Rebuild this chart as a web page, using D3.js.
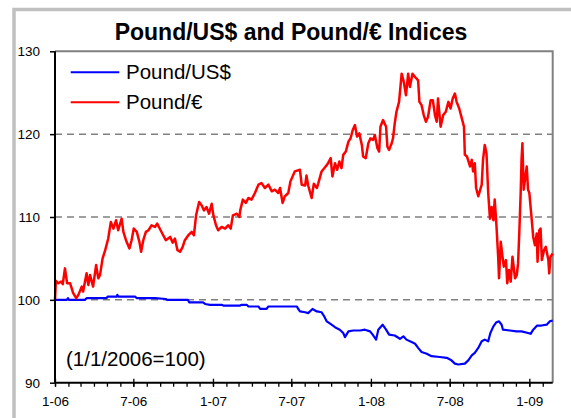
<!DOCTYPE html>
<html>
<head>
<meta charset="utf-8">
<script src="https://cdn.jsdelivr.net/npm/d3@7"></script>
<style>
  html, body { margin: 0; padding: 0; background: #fff; }
  svg { display: block; font-family: "Liberation Sans", Arial, sans-serif; }
</style>
</head>
<body>
<svg id="chart" width="571" height="418"></svg>
<script>
// Index series, rebased so that 1 Jan 2006 = 100.
// Dates are stored as day offsets from the base date.
const baseDate = "2006-01-01";
const endDate = "2009-02-24";

const usdDays = [0, 27, 30, 32, 69, 73, 119, 122, 143, 144, 146, 185, 189, 231, 256, 259, 307, 310, 342, 347,
  358, 386, 389, 427, 431, 443, 447, 470, 474, 489, 493, 559, 562, 566, 578, 585, 595, 605, 616, 621,
  628, 639, 647, 658, 666, 670, 678, 689, 705, 716, 728, 734, 742, 747, 757, 765, 772, 785, 797, 805,
  812, 824, 832, 839, 847, 859, 870, 889, 905, 916, 924, 932, 947, 955, 963, 970, 978, 986, 993, 1001,
  1006, 1013, 1020, 1026, 1032, 1035, 1051, 1066, 1078, 1093, 1099, 1105, 1114, 1124, 1136, 1143, 1150];
const usdValues = [100.0, 100.0, 100.2, 100.0, 100.0, 100.2, 100.2, 100.4, 100.4, 100.6, 100.4, 100.4, 100.2, 100.2, 100.1, 100.0, 100.0, 99.7, 99.7, 99.5,
  99.4, 99.4, 99.3, 99.3, 99.4, 99.4, 99.2, 99.2, 98.9, 98.9, 99.2, 99.2, 98.9, 98.6, 98.5, 98.4, 98.9, 98.6, 98.5, 98.1,
  97.4, 97.0, 96.7, 96.4, 96.0, 95.5, 96.2, 96.3, 96.3, 96.4, 96.2, 95.8, 95.2, 96.4, 97.0, 96.4, 95.8, 95.7, 95.3, 95.6,
  95.2, 94.9, 94.7, 94.2, 93.7, 93.5, 93.2, 93.1, 93.0, 92.7, 92.3, 92.2, 92.3, 92.7, 93.3, 93.6, 94.2, 95.0, 95.2, 95.0,
  96.0, 96.8, 97.3, 97.4, 97.0, 96.4, 96.3, 96.2, 96.2, 96.0, 95.9, 96.4, 96.9, 96.9, 97.0, 97.4, 97.5];

const eurDays = [0, 2, 7, 14, 18, 23, 28, 35, 42, 49, 54, 62, 65, 73, 77, 81, 88, 95, 100, 104,
  110, 116, 123, 129, 135, 141, 146, 154, 158, 164, 172, 177, 182, 189, 195, 199, 204, 210, 216, 223,
  231, 236, 244, 250, 256, 266, 272, 277, 283, 289, 295, 300, 308, 316, 321, 326, 333, 339, 344, 350,
  356, 362, 366, 372, 377, 385, 393, 400, 406, 411, 420, 426, 428, 434, 441, 447, 454, 462, 470, 477,
  485, 493, 501, 508, 516, 520, 526, 531, 539, 544, 554, 566, 570, 578, 581, 585, 593, 598, 605, 608,
  616, 624, 631, 637, 641, 647, 652, 657, 662, 666, 672, 678, 683, 688, 693, 698, 703, 709, 712, 718,
  724, 729, 735, 739, 745, 749, 752, 758, 765, 768, 772, 778, 781, 785, 789, 795, 801, 806, 811, 816,
  820, 826, 832, 839, 842, 847, 852, 857, 862, 868, 873, 878, 882, 885, 891, 897, 903, 909, 914, 919,
  924, 928, 934, 940, 945, 947, 952, 959, 963, 966, 970, 973, 978, 986, 989, 993, 997, 1001, 1005, 1009,
  1013, 1016, 1020, 1024, 1026, 1030, 1034, 1037, 1042, 1045, 1049, 1053, 1057, 1063, 1067, 1070, 1073, 1076, 1078, 1080,
  1083, 1090, 1093, 1096, 1101, 1105, 1109, 1113, 1115, 1119, 1122, 1125, 1130, 1134, 1140, 1142, 1145, 1150];
const eurValues = [100.0, 102.3, 102.0, 102.2, 101.9, 103.8, 102.0, 102.0, 100.8, 100.2, 100.6, 101.6, 101.0, 103.2, 101.8, 103.0, 101.6, 104.2, 102.6, 103.0,
  105.0, 106.0, 107.4, 109.4, 108.6, 109.6, 108.4, 109.8, 108.2, 107.2, 106.2, 107.2, 108.6, 108.2, 107.0, 105.8, 107.2, 108.2, 108.4, 109.0,
  108.8, 109.2, 108.4, 107.8, 107.2, 107.6, 106.9, 107.4, 106.0, 105.8, 106.4, 107.2, 107.8, 108.2, 107.8, 110.2, 111.8, 111.4, 110.8, 111.2,
  110.4, 111.6, 110.2, 109.0, 108.4, 108.8, 108.6, 109.0, 108.6, 110.2, 110.4, 110.0, 110.8, 112.1, 111.7, 112.3, 112.1, 112.9, 113.9, 114.1,
  113.5, 113.9, 113.1, 113.3, 112.9, 113.5, 111.7, 112.5, 112.9, 114.3, 115.5, 115.7, 113.9, 113.8, 115.0, 113.8, 112.3, 114.0, 113.5, 114.0,
  115.5, 116.0, 116.5, 117.1, 114.9, 116.5, 115.7, 116.7, 115.9, 117.5, 117.9, 119.1, 119.5, 120.5, 121.1, 119.7, 120.1, 118.7, 117.3, 117.1,
  118.9, 119.5, 119.3, 119.9, 118.3, 117.9, 120.9, 121.7, 120.9, 118.5, 118.1, 118.9, 119.5, 121.3, 122.7, 123.9, 127.3, 126.3, 124.7, 127.3,
  125.7, 127.3, 126.9, 126.5, 123.9, 123.5, 122.3, 121.5, 122.1, 124.1, 124.1, 122.3, 121.5, 124.3, 120.9, 122.3, 122.7, 123.9, 123.1, 124.3,
  124.9, 123.9, 123.1, 121.9, 120.9, 117.5, 117.3, 116.1, 116.9, 115.5, 116.5, 113.5, 112.5, 113.9, 116.9, 118.7, 117.7, 112.9, 109.8, 111.2,
  109.6, 112.1, 109.0, 105.2, 102.6, 107.0, 105.2, 104.0, 104.8, 102.0, 103.6, 102.2, 105.2, 102.6, 103.0, 104.4, 108.4, 112.9, 116.9, 118.9,
  113.3, 116.1, 113.3, 112.9, 110.0, 107.6, 106.6, 108.0, 104.6, 108.4, 108.6, 104.8, 106.0, 106.4, 104.8, 103.2, 105.2, 105.6];

const seriesNames = ["Pound/US$", "Pound/€"];
const seriesColors = ["#0000ff", "#ff0000"];

const yTicks = [90, 100, 110, 120, 130];
const gridValues = [100, 110, 120];
const xTickDates = ["2006-01-01", "2006-07-01", "2007-01-01", "2007-07-01", "2008-01-01", "2008-07-01", "2009-01-01"];
const xTickLabels = ["1-06", "7-06", "1-07", "7-07", "1-08", "7-08", "1-09"];

const titleText = "Pound/US$ and Pound/€ Indices";
const noteText = "(1/1/2006=100)";

// ---------------------------------------------------------------
const parse = d3.utcParse("%Y-%m-%d");
const start = parse(baseDate);
const toSeries = (days, vals) => days.map((d, i) => ({ date: d3.utcDay.offset(start, d), value: vals[i] }));
const usd = toSeries(usdDays, usdValues);
const eur = toSeries(eurDays, eurValues);

const svg = d3.select("#chart");
const W = 571, H = 418;
const plot = { left: 55, right: 552.7, top: 51.3, bottom: 382.7 };

svg.append("rect").attr("width", W).attr("height", H).attr("fill", "#fff");

// chart-area frame (runs off the right and bottom edges)
svg.append("rect")
  .attr("x", 14).attr("y", 9.5).attr("width", W + 20).attr("height", H + 20)
  .attr("fill", "none").attr("stroke", "#c0c0c0").attr("stroke-width", 3.5);

const x = d3.scaleUtc().domain([start, parse(endDate)]).range([plot.left, plot.right]);
const y = d3.scaleLinear().domain([90, 130]).range([plot.bottom, plot.top]);

// title
svg.append("text")
  .attr("x", 291).attr("y", 39.5)
  .attr("text-anchor", "middle")
  .attr("font-size", 23).attr("font-weight", "bold")
  .attr("fill", "#000")
  .text(titleText);

// dashed gridlines
svg.append("g").selectAll("line").data(gridValues).join("line")
  .attr("x1", plot.left).attr("x2", plot.right)
  .attr("y1", d => y(d)).attr("y2", d => y(d))
  .attr("stroke", "#808080").attr("stroke-width", 1.5)
  .attr("stroke-dasharray", "7,5");

// plot-area border: top and right in gray
svg.append("path")
  .attr("d", `M${plot.left},${y(130)}H${plot.right}V${plot.bottom}`)
  .attr("fill", "none").attr("stroke", "#808080").attr("stroke-width", 2);

// series lines
const line = d3.line().x(d => x(d.date)).y(d => y(d.value));
[usd, eur].forEach((s, i) => {
  svg.append("path")
    .datum(s)
    .attr("d", line)
    .attr("fill", "none")
    .attr("stroke", seriesColors[i])
    .attr("stroke-width", i === 0 ? 2.2 : 2.5)
    .attr("stroke-linejoin", "round");
});

// y axis
const yAxis = svg.append("g")
  .attr("transform", `translate(${plot.left},0)`)
  .call(d3.axisLeft(y).tickValues(yTicks).tickSize(5).tickPadding(10).tickFormat(d3.format("d")));
yAxis.select(".domain").attr("stroke", "#000").attr("stroke-width", 2).attr("d", `M0,${plot.top}V${plot.bottom}`);
yAxis.selectAll(".tick line").attr("stroke", "#000").attr("stroke-width", 1.5);
yAxis.selectAll(".tick text").attr("font-size", 13.5).attr("fill", "#000")
  .attr("font-family", "'Liberation Sans', Arial, sans-serif");

// x axis: monthly minor ticks, half-yearly labelled ticks that cross the axis
const minor = svg.append("g")
  .attr("transform", `translate(0,${plot.bottom})`)
  .call(d3.axisBottom(x).ticks(d3.utcMonth.every(1)).tickSize(4).tickFormat(""));
minor.select(".domain").remove();
minor.selectAll(".tick line").attr("stroke", "#000").attr("stroke-width", 1.3);

const majorDates = xTickDates.map(parse);
const xAxis = svg.append("g")
  .attr("transform", `translate(0,${plot.bottom})`)
  .call(d3.axisBottom(x).tickValues(majorDates).tickSize(4).tickPadding(10)
    .tickFormat((d, i) => xTickLabels[i]));
xAxis.select(".domain").attr("stroke", "#000").attr("stroke-width", 2).attr("d", `M${plot.left},0H${plot.right}`);
xAxis.selectAll(".tick line").attr("y1", -4).attr("stroke", "#000").attr("stroke-width", 1.3);
xAxis.selectAll(".tick text").attr("font-size", 13.5).attr("fill", "#000")
  .attr("font-family", "'Liberation Sans', Arial, sans-serif");

// legend
const legend = svg.append("g");
seriesNames.forEach((name, i) => {
  const ly = 72.3 + i * 30;
  legend.append("line")
    .attr("x1", 70.7).attr("x2", 119.3).attr("y1", ly).attr("y2", ly)
    .attr("stroke", seriesColors[i]).attr("stroke-width", 2);
  legend.append("text")
    .attr("x", 126).attr("y", ly + 7)
    .attr("font-size", 20.5).attr("fill", "#000")
    .text(name);
});

// base-date note
svg.append("text")
  .attr("x", 66).attr("y", 365.5)
  .attr("font-size", 20.5).attr("fill", "#000")
  .text(noteText);
</script>
</body>
</html>
